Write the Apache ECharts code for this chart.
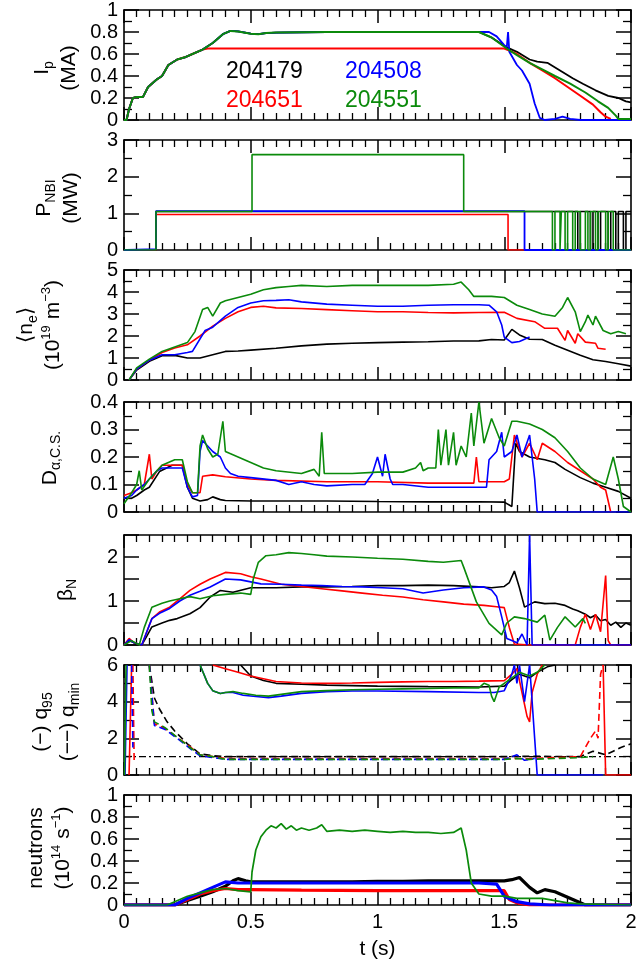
<!DOCTYPE html>
<html>
<head>
<meta charset="utf-8">
<script src="https://cdn.jsdelivr.net/npm/echarts@6/dist/echarts.min.js"></script>
<style>html,body{margin:0;padding:0;background:#fff}#chart{width:636px;height:972px}</style>
</head>
<body>
<div id="chart"></div>
<script>
// shot numbers and colours
var shots = ['204179', '204651', '204508', '204551'];
var shotColors = ['#000000', '#ff0000', '#0000ff', '#0b8a0b'];

// x ticks shared by every panel (time, s)
var tMin = 0, tMax = 2, tStep = 0.5;

// panel y ranges
var yMax = [1, 3, 5, 0.4, 2.5, 6, 1];
var yStep = [0.2, 1, 1, 0.1, 0.5, 2, 0.2];

/* ---- panel 1 : Ip (MA) ---- */
var ipRise = [[0,0],[0.01,0],[0.02,0.1],[0.035,0.2],[0.05,0.21],[0.075,0.21],[0.095,0.3],[0.13,0.37],[0.15,0.4],[0.175,0.5],[0.21,0.55],[0.24,0.57],[0.27,0.6],[0.31,0.64]];
var ipFlat = [[0.35,0.7],[0.39,0.78],[0.42,0.81],[0.45,0.805],[0.5,0.785],[0.53,0.78],[0.56,0.79],[0.6,0.795],[0.8,0.8],[1.0,0.8],[1.2,0.8],[1.4,0.8]];
var ipBlack = [[1.45,0.75],[1.51,0.66],[1.55,0.62],[1.6,0.55],[1.63,0.53],[1.67,0.52],[1.72,0.45],[1.77,0.38],[1.81,0.33],[1.86,0.27],[1.91,0.22],[1.95,0.2],[1.98,0.17],[2.0,0.16]];
var ipRed = [[0.33,0.65],[0.5,0.65],[0.8,0.65],[1.0,0.65],[1.2,0.65],[1.5,0.65],[1.52,0.63],[1.55,0.6],[1.6,0.52],[1.65,0.45],[1.7,0.38],[1.75,0.3],[1.8,0.22],[1.85,0.14],[1.88,0.07],[1.9,0.03],[1.92,0.01]];
var ipBlue = [[1.44,0.8],[1.47,0.76],[1.5,0.68],[1.51,0.66],[1.515,0.8],[1.52,0.62],[1.55,0.5],[1.57,0.45],[1.6,0.33],[1.62,0.15],[1.64,0.02],[1.66,0],[1.7,0.01],[1.73,0.03],[1.76,0.01],[1.8,0],[2.0,0]];
var ipGreen = [[1.45,0.75],[1.51,0.65],[1.55,0.59],[1.6,0.52],[1.65,0.46],[1.7,0.4],[1.76,0.33],[1.82,0.25],[1.87,0.17],[1.91,0.11],[1.94,0.04],[1.95,0.01],[2.0,0.01]];

/* ---- panel 2 : P_NBI (MW), step data ---- */
var pnbiBlack = [[0,0],[0.126,1.05],[1.79,0],[1.8,1.05],[1.84,0],[1.85,1.05],[1.87,0],[1.88,1.05],[1.91,0],[1.92,1.05],[1.94,0],[1.95,1.05],[1.97,0],[1.98,1.05],[2.0,1.05]];
var pnbiRed = [[0,0],[0.126,0.97],[1.515,0],[2.0,0]];
var pnbiBlue = [[0,0],[0.01,0.02],[0.126,1.06],[1.58,0],[2.0,0]];
var pnbiGreen = [[0,0],[0.126,1.05],[0.505,2.6],[1.34,1.05],[1.69,0],[1.7,1.05],[1.72,0],[1.725,1.05],[1.74,0],[1.75,1.05],[1.77,0],[1.78,1.05],[1.8,0],[1.82,1.05],[1.83,0],[1.84,1.05],[1.86,0],[1.87,1.05],[1.9,0],[1.91,1.05],[1.93,0],[2.0,0]];

/* ---- panel 3 : <ne> (1e19 m^-3) ---- */
var neBlack = [[0.02,0],[0.05,0.45],[0.1,0.85],[0.15,1.1],[0.2,1.12],[0.25,1.0],[0.3,1.0],[0.35,1.15],[0.4,1.3],[0.45,1.32],[0.5,1.36],[0.6,1.44],[0.7,1.55],[0.8,1.63],[0.9,1.67],[1.0,1.7],[1.1,1.72],[1.2,1.74],[1.3,1.77],[1.4,1.78],[1.45,1.84],[1.5,1.82],[1.53,2.3],[1.56,2.05],[1.6,1.85],[1.65,1.84],[1.7,1.58],[1.75,1.35],[1.8,1.12],[1.85,0.92],[1.9,0.84],[1.95,0.74],[2.0,0.63]];
var neRed = [[0.02,0],[0.05,0.5],[0.1,0.9],[0.15,1.25],[0.2,1.45],[0.25,1.6],[0.3,2.0],[0.35,2.45],[0.4,2.8],[0.45,3.1],[0.5,3.3],[0.55,3.35],[0.6,3.28],[0.7,3.25],[0.8,3.2],[0.9,3.15],[1.0,3.1],[1.1,3.1],[1.2,3.07],[1.3,3.05],[1.4,3.07],[1.5,3.08],[1.55,2.8],[1.62,2.65],[1.66,2.35],[1.71,2.35],[1.74,1.8],[1.75,2.25],[1.78,1.67],[1.79,2.1],[1.82,1.72],[1.86,1.67],[1.87,1.44],[1.9,1.4]];
var neBlue = [[0.02,0],[0.05,0.5],[0.1,0.9],[0.15,1.15],[0.2,1.15],[0.25,1.25],[0.27,1.3],[0.32,2.25],[0.35,2.4],[0.4,2.9],[0.45,3.3],[0.5,3.5],[0.55,3.6],[0.6,3.62],[0.65,3.65],[0.7,3.55],[0.8,3.45],[0.9,3.4],[1.0,3.35],[1.1,3.35],[1.2,3.4],[1.3,3.42],[1.4,3.42],[1.44,3.4],[1.47,3.1],[1.49,2.5],[1.5,1.95],[1.53,1.7],[1.56,1.75],[1.6,1.95]];
var neGreen = [[0.02,0],[0.05,0.55],[0.1,0.95],[0.15,1.3],[0.2,1.5],[0.25,1.7],[0.28,2.2],[0.31,3.2],[0.33,3.3],[0.35,2.9],[0.38,3.5],[0.4,3.6],[0.45,3.75],[0.5,3.9],[0.55,4.1],[0.6,4.2],[0.65,4.25],[0.7,4.3],[0.8,4.25],[0.9,4.3],[1.0,4.3],[1.1,4.3],[1.2,4.3],[1.3,4.35],[1.33,4.45],[1.36,4.1],[1.38,3.8],[1.45,3.8],[1.5,3.75],[1.55,3.4],[1.6,3.2],[1.65,3.0],[1.7,2.9],[1.73,3.3],[1.75,3.75],[1.78,3.1],[1.8,2.2],[1.82,2.65],[1.83,2.95],[1.85,2.5],[1.86,2.9],[1.89,2.25],[1.92,2.1],[1.95,2.2],[1.98,2.1]];

/* ---- panel 4 : D_alpha C.S. ---- */
var daBlack = [[0,0.05],[0.03,0.05],[0.05,0.06],[0.08,0.08],[0.1,0.09],[0.14,0.147],[0.19,0.17],[0.23,0.17],[0.25,0.09],[0.27,0.05],[0.3,0.04],[0.33,0.045],[0.35,0.055],[0.38,0.045],[0.4,0.042],[0.5,0.04],[0.6,0.04],[0.8,0.04],[1.0,0.038],[1.2,0.037],[1.4,0.037],[1.5,0.036],[1.53,0.02],[1.545,0.25],[1.56,0.22],[1.6,0.2],[1.66,0.19],[1.7,0.18],[1.74,0.155],[1.8,0.125],[1.85,0.105],[1.9,0.09],[1.95,0.075],[2.0,0.05]];
var daRed = [[0,0.06],[0.03,0.07],[0.05,0.08],[0.08,0.1],[0.1,0.21],[0.11,0.12],[0.13,0.15],[0.15,0.17],[0.2,0.17],[0.23,0.17],[0.25,0.1],[0.27,0.07],[0.3,0.07],[0.31,0.13],[0.35,0.135],[0.4,0.128],[0.5,0.12],[0.6,0.115],[0.8,0.11],[1.0,0.11],[1.2,0.105],[1.38,0.105],[1.39,0.2],[1.4,0.11],[1.5,0.11],[1.52,0.12],[1.54,0.28],[1.57,0.2],[1.6,0.25],[1.63,0.19],[1.65,0.25],[1.7,0.22],[1.75,0.18],[1.8,0.15],[1.85,0.12],[1.88,0.09],[1.9,0.08],[1.92,0]];
var daBlue = [[0,0.05],[0.03,0.06],[0.05,0.08],[0.08,0.1],[0.1,0.12],[0.13,0.15],[0.15,0.16],[0.2,0.16],[0.23,0.16],[0.25,0.09],[0.27,0.055],[0.29,0.06],[0.3,0.22],[0.31,0.26],[0.33,0.24],[0.35,0.22],[0.38,0.2],[0.4,0.16],[0.42,0.14],[0.45,0.13],[0.5,0.125],[0.6,0.115],[0.65,0.1],[0.7,0.11],[0.75,0.1],[0.8,0.095],[0.9,0.1],[0.95,0.1],[0.98,0.14],[1.0,0.2],[1.02,0.13],[1.03,0.21],[1.05,0.12],[1.06,0.1],[1.1,0.1],[1.2,0.09],[1.3,0.09],[1.43,0.09],[1.44,0.19],[1.47,0.22],[1.49,0.29],[1.5,0.2],[1.53,0.22],[1.55,0.28],[1.57,0.2],[1.6,0.28],[1.62,0.12],[1.63,0],[2.0,0]];
var daGreen = [[0,0.03],[0.03,0.07],[0.05,0.1],[0.06,0.15],[0.07,0.08],[0.1,0.12],[0.13,0.15],[0.15,0.17],[0.2,0.19],[0.23,0.19],[0.25,0.11],[0.27,0.07],[0.29,0.07],[0.3,0.24],[0.31,0.28],[0.33,0.23],[0.35,0.2],[0.37,0.21],[0.39,0.33],[0.4,0.22],[0.45,0.2],[0.5,0.18],[0.55,0.16],[0.6,0.15],[0.7,0.14],[0.75,0.155],[0.77,0.13],[0.78,0.29],[0.79,0.14],[0.9,0.14],[1.0,0.145],[1.1,0.145],[1.15,0.16],[1.17,0.18],[1.18,0.15],[1.2,0.16],[1.23,0.16],[1.24,0.3],[1.25,0.17],[1.27,0.3],[1.28,0.17],[1.3,0.29],[1.31,0.17],[1.33,0.24],[1.35,0.2],[1.37,0.36],[1.38,0.24],[1.4,0.4],[1.42,0.25],[1.45,0.34],[1.48,0.27],[1.5,0.24],[1.53,0.33],[1.55,0.33],[1.6,0.32],[1.65,0.3],[1.7,0.27],[1.75,0.22],[1.8,0.16],[1.85,0.12],[1.9,0.1],[1.93,0.2],[1.95,0.12],[1.97,0.02],[2.0,0]];

/* ---- panel 5 : beta_N ---- */
var bnBlack = [[0,0],[0.02,0.1],[0.04,0.05],[0.07,0],[0.09,0.2],[0.11,0.41],[0.15,0.5],[0.18,0.56],[0.21,0.6],[0.26,0.71],[0.3,0.85],[0.34,1.09],[0.38,1.24],[0.43,1.2],[0.5,1.3],[0.6,1.3],[0.7,1.32],[0.8,1.32],[0.9,1.33],[1.0,1.35],[1.1,1.35],[1.2,1.36],[1.3,1.35],[1.4,1.32],[1.45,1.3],[1.5,1.33],[1.52,1.42],[1.54,1.68],[1.56,1.3],[1.58,0.86],[1.62,0.98],[1.66,0.94],[1.7,0.95],[1.74,0.9],[1.77,0.82],[1.79,0.78],[1.82,0.7],[1.84,0.62],[1.86,0.68],[1.88,0.55],[1.9,0.58],[1.92,0.45],[1.94,0.52],[1.96,0.4],[1.98,0.5],[2.0,0.45]];
var bnRed = [[0,0],[0.02,0.15],[0.04,0.05],[0.07,0],[0.09,0.3],[0.11,0.6],[0.14,0.75],[0.18,0.86],[0.22,1.05],[0.26,1.24],[0.3,1.38],[0.34,1.5],[0.4,1.65],[0.46,1.62],[0.5,1.55],[0.54,1.5],[0.62,1.38],[0.7,1.33],[0.78,1.28],[0.86,1.23],[0.94,1.18],[1.02,1.13],[1.1,1.09],[1.18,1.03],[1.26,0.98],[1.34,0.93],[1.42,0.9],[1.47,0.87],[1.5,0.85],[1.52,0.4],[1.54,0.02],[1.6,0],[1.78,0],[1.8,0.4],[1.82,0.7],[1.84,0.35],[1.86,0.7],[1.88,0.3],[1.9,1.58],[1.91,0.1],[1.92,0],[2.0,0]];
var bnBlue = [[0,0],[0.02,0.12],[0.04,0.05],[0.07,0],[0.09,0.3],[0.11,0.6],[0.14,0.72],[0.18,0.83],[0.22,1.0],[0.26,1.13],[0.3,1.22],[0.34,1.32],[0.4,1.5],[0.46,1.48],[0.54,1.39],[0.62,1.38],[0.7,1.36],[0.78,1.35],[0.86,1.33],[0.94,1.32],[1.02,1.3],[1.1,1.28],[1.18,1.18],[1.26,1.25],[1.34,1.3],[1.42,1.32],[1.45,1.25],[1.47,1.1],[1.49,0.64],[1.51,0.15],[1.53,0.1],[1.55,0.05],[1.57,0.25],[1.59,0],[1.6,2.5],[1.61,0],[2.0,0]];
var bnGreen = [[0,0],[0.03,0.1],[0.06,0],[0.08,0.4],[0.11,0.86],[0.15,0.95],[0.18,1.0],[0.22,1.05],[0.26,1.1],[0.3,1.05],[0.35,1.12],[0.4,1.15],[0.46,1.18],[0.5,1.15],[0.51,1.5],[0.53,1.88],[0.56,2.03],[0.6,2.05],[0.65,2.1],[0.7,2.08],[0.75,2.05],[0.8,2.02],[0.9,2.0],[1.0,1.97],[1.1,1.95],[1.2,1.9],[1.26,1.88],[1.33,1.92],[1.34,1.77],[1.39,0.98],[1.44,0.49],[1.49,0.23],[1.51,0.5],[1.54,0.64],[1.58,0.6],[1.63,0.52],[1.66,0.68],[1.68,0.11],[1.71,0.4],[1.74,0.64],[1.78,0.41],[1.81,0.6],[1.82,0.49]];

/* ---- panel 6 : q95 (solid) and qmin (dashed) ---- */
var q95Black = [[0.46,6],[0.5,5.4],[0.55,5.15],[0.6,5.0],[0.7,4.95],[0.8,4.9],[1.0,4.85],[1.2,4.82],[1.4,4.8],[1.5,4.85],[1.53,5.2],[1.56,5.5],[1.6,5.3],[1.63,5.6],[1.67,5.9],[1.7,6]];
var q95Red = [[0.02,0],[0.03,6],[0.05,null],[0.35,6],[0.4,5.8],[0.45,5.6],[0.5,5.4],[0.55,5.25],[0.6,5.1],[0.7,5.02],[0.8,5.0],[0.9,5.02],[1.0,5.05],[1.1,5.08],[1.2,5.1],[1.3,5.1],[1.4,5.12],[1.5,5.15],[1.53,5.5],[1.55,5.8],[1.57,4.5],[1.59,3.2],[1.6,2.9],[1.61,4.5],[1.63,5.5],[1.65,6],[1.66,null],[1.89,6],[1.9,0],[2.0,0]];
var q95Blue = [[0.004,0],[0.012,6],[0.05,null],[0.3,6],[0.33,5.0],[0.35,4.6],[0.38,4.45],[0.4,4.5],[0.43,4.5],[0.47,4.35],[0.52,4.28],[0.57,4.22],[0.62,4.3],[0.7,4.45],[0.8,4.55],[0.9,4.58],[1.0,4.58],[1.2,4.55],[1.4,4.5],[1.46,4.5],[1.5,4.6],[1.53,5.5],[1.54,6],[1.55,5],[1.56,6],[1.58,4.0],[1.6,6],[1.62,2],[1.63,0],[1.89,0]];
var q95Green = [[0.002,0],[0.008,6],[0.05,null],[0.3,6],[0.33,5.0],[0.35,4.6],[0.38,4.45],[0.4,4.5],[0.43,4.55],[0.47,4.45],[0.52,4.35],[0.57,4.3],[0.62,4.4],[0.7,4.55],[0.8,4.6],[0.9,4.65],[1.0,4.68],[1.1,4.7],[1.2,4.72],[1.3,4.75],[1.4,4.75],[1.42,5.0],[1.44,4.9],[1.45,4.3],[1.46,4.0],[1.48,4.8],[1.5,5.0],[1.53,5.3],[1.56,5.6],[1.6,5.4],[1.63,5.6],[1.66,6]];
var qminBlack = [[0.1,6],[0.12,4.2],[0.14,3.6],[0.17,2.9],[0.2,2.4],[0.25,1.7],[0.3,1.15],[0.35,1.05],[0.4,1.0],[0.6,1.0],[0.8,1.0],[1.0,1.0],[1.2,1.0],[1.4,1.0],[1.5,1.0],[1.6,1.02],[1.8,1.0],[1.85,1.3],[1.9,1.1],[1.93,1.3],[1.96,1.5],[2.0,1.7]];
var qminRed = [[0.035,6],[0.04,0.8],[0.045,null],[0.1,6],[0.12,2.8],[0.16,2.55],[0.21,2.05],[0.26,1.55],[0.3,1.1],[0.35,1.0],[0.4,0.9],[0.6,0.9],[0.8,0.9],[1.0,0.9],[1.2,0.9],[1.4,0.9],[1.5,0.9],[1.6,0.9],[1.8,1.0],[1.82,1.5],[1.84,2.0],[1.86,2.4],[1.87,2.0],[1.88,5.5],[1.89,6]];
var qminBlue = [[0.03,6],[0.035,1.5],[0.04,null],[0.1,6],[0.12,2.7],[0.16,2.5],[0.21,2.0],[0.26,1.45],[0.3,1.05],[0.35,0.95],[0.4,0.85],[0.6,0.85],[0.8,0.85],[1.0,0.85],[1.2,0.85],[1.4,0.85],[1.5,0.85],[1.55,1.1],[1.58,0.8],[1.62,0.9]];
var qminGreen = [[0.1,6],[0.11,3.5],[0.12,2.9],[0.16,2.6],[0.21,2.05],[0.26,1.5],[0.3,1.1],[0.35,1.0],[0.4,0.85],[0.6,0.85],[0.8,0.85],[1.0,0.85],[1.2,0.85],[1.4,0.85],[1.5,0.85],[1.55,0.9],[1.6,0.85],[1.7,0.9],[1.8,0.95],[1.85,1.0]];
var qOne = [[0,1],[2,1]];

/* ---- panel 7 : neutrons (1e14 /s) ---- */
var nBlack = [[0,0],[0.2,0],[0.25,0.04],[0.3,0.08],[0.35,0.12],[0.4,0.17],[0.43,0.22],[0.45,0.24],[0.48,0.22],[0.5,0.21],[0.6,0.21],[0.7,0.21],[0.8,0.21],[0.9,0.21],[1.0,0.215],[1.1,0.215],[1.2,0.22],[1.3,0.22],[1.4,0.22],[1.5,0.22],[1.53,0.23],[1.56,0.25],[1.6,0.16],[1.63,0.11],[1.66,0.14],[1.7,0.12],[1.75,0.07],[1.8,0.02],[1.82,0],[2.0,0]];
var nRed = [[0,0],[0.2,0],[0.25,0.05],[0.3,0.1],[0.35,0.13],[0.4,0.15],[0.45,0.14],[0.5,0.14],[0.7,0.135],[1.0,0.13],[1.3,0.13],[1.5,0.13],[1.52,0.05],[1.55,0.02],[1.6,0],[2.0,0]];
var nBlue = [[0,0],[0.2,0],[0.25,0.06],[0.3,0.11],[0.35,0.16],[0.4,0.21],[0.45,0.2],[0.5,0.2],[0.6,0.2],[0.8,0.2],[1.0,0.2],[1.2,0.2],[1.4,0.2],[1.47,0.19],[1.5,0.08],[1.55,0.03],[1.6,0.01],[1.68,0],[2.0,0]];
var nGreen = [[0,0],[0.17,0],[0.2,0.03],[0.25,0.08],[0.3,0.11],[0.35,0.14],[0.4,0.15],[0.45,0.13],[0.5,0.12],[0.505,0.3],[0.52,0.5],[0.54,0.62],[0.56,0.68],[0.58,0.72],[0.6,0.7],[0.62,0.74],[0.64,0.69],[0.66,0.72],[0.68,0.68],[0.7,0.7],[0.73,0.68],[0.76,0.7],[0.78,0.73],[0.8,0.67],[0.85,0.68],[0.9,0.67],[0.95,0.68],[1.0,0.67],[1.05,0.66],[1.1,0.67],[1.15,0.66],[1.2,0.66],[1.25,0.65],[1.3,0.66],[1.33,0.7],[1.35,0.5],[1.37,0.2],[1.4,0.1],[1.45,0.08],[1.5,0.08],[1.55,0.06],[1.6,0.06],[1.65,0.06],[1.7,0.04],[1.75,0.02],[1.8,0.01],[2.0,0]];

var FONT = '"Liberation Sans", Arial, Helvetica, sans-serif';
var panelTop = [10, 140, 270, 402, 535, 665, 795];
var panelH = 110;

var chart = echarts.init(document.getElementById('chart'), null, {renderer: 'canvas'});

var grids = [], xAxes = [], yAxes = [], series = [];

for (var i = 0; i < 7; i++) {
    grids.push({left: 124, right: 5, top: panelTop[i], height: panelH, outerBoundsMode: 'none'});
    [false, true].forEach(function (mirror) {
        var last = (i === 6 && !mirror);
        xAxes.push({
            type: 'value', gridIndex: i, min: tMin, max: tMax, interval: tStep,
            position: mirror ? 'top' : 'bottom',
            axisLine: {show: true, onZero: false, lineStyle: {color: '#000', width: 1.6}},
            axisTick: {show: true, inside: true, length: 13, lineStyle: {color: '#000', width: 1.5}},
            minorTick: {show: true, splitNumber: 10, length: 7, lineStyle: {color: '#000', width: 1.3}},
            splitLine: {show: false},
            axisLabel: {show: last, fontSize: 20, color: '#000', margin: 7, fontFamily: FONT,
                        showMinLabel: true, showMaxLabel: true},
            name: last ? 't (s)' : '', nameLocation: 'middle', nameGap: 34,
            nameTextStyle: {fontSize: 21, color: '#000', fontFamily: FONT}
        });
    });
    (function (pi) {
        [false, true].forEach(function (mirror) {
            yAxes.push({
                type: 'value', gridIndex: pi, min: 0, max: yMax[pi], interval: yStep[pi],
                position: mirror ? 'right' : 'left',
                axisLine: {show: true, onZero: false, lineStyle: {color: '#000', width: 1.6}},
                axisTick: {show: true, inside: true, length: 15, lineStyle: {color: '#000', width: 1.5}},
                minorTick: {show: pi !== 4, splitNumber: 2, length: 8, lineStyle: {color: '#000', width: 1.3}},
                splitLine: {show: false},
                axisLabel: {show: !mirror, fontSize: 20, color: '#000', margin: 6, fontFamily: FONT,
                            showMinLabel: true, showMaxLabel: true,
                            formatter: function (v) {
                                if (pi === 4) return (Math.abs(v - Math.round(v)) < 1e-9) ? String(Math.round(v)) : '';
                                return String(+v.toFixed(2));
                            }}
            });
        });
    })(i);
}

function addLine(panel, data, color, opts) {
    opts = opts || {};
    series.push({
        type: 'line', xAxisIndex: panel * 2, yAxisIndex: panel * 2,
        data: data, showSymbol: false, symbol: 'none', silent: true,
        step: opts.step || false, clip: true,
        lineStyle: {color: color, width: opts.width || 1.6, type: opts.type || 'solid'},
        z: opts.z || 2
    });
}

var K = shotColors[0], R = shotColors[1], B = shotColors[2], G = shotColors[3];

addLine(0, ipRise.concat(ipFlat, ipBlack), K, {width: 1.8});
addLine(0, ipRise.concat(ipRed), R, {width: 2});
addLine(0, ipRise.concat(ipFlat, ipBlue), B, {width: 1.8});
addLine(0, ipRise.concat(ipFlat, ipGreen), G, {width: 2});

addLine(1, pnbiBlack, K, {step: 'end'});
addLine(1, pnbiRed, R, {step: 'end'});
addLine(1, pnbiBlue, B, {step: 'end', width: 1.8});
addLine(1, pnbiGreen, G, {step: 'end'});

addLine(2, neBlack, K);
addLine(2, neRed, R);
addLine(2, neBlue, B);
addLine(2, neGreen, G);

addLine(3, daBlack, K);
addLine(3, daRed, R);
addLine(3, daBlue, B);
addLine(3, daGreen, G);

addLine(4, bnBlack, K);
addLine(4, bnRed, R);
addLine(4, bnBlue, B);
addLine(4, bnGreen, G);

addLine(5, qOne, '#000', {type: [7, 3, 2, 3], width: 1.3});
addLine(5, q95Black, K);
addLine(5, q95Red, R);
addLine(5, q95Blue, B);
addLine(5, q95Green, G);
addLine(5, qminBlack, K, {type: [7, 4]});
addLine(5, qminRed, R, {type: [7, 4]});
addLine(5, qminBlue, B, {type: [7, 4]});
addLine(5, qminGreen, G, {type: [7, 4]});

addLine(6, nBlack, K, {width: 3.2});
addLine(6, nRed, R, {width: 3.2});
addLine(6, nBlue, B, {width: 3.2});
addLine(6, nGreen, G, {width: 1.7});

// axis titles (rotated) and shot labels
var rich = {
    m: {fontSize: 21, lineHeight: 27, fontFamily: FONT, color: '#000'},
    s: {fontSize: 14, lineHeight: 14, verticalAlign: 'bottom', fontFamily: FONT, color: '#000'},
    p: {fontSize: 13, lineHeight: 13, verticalAlign: 'top', fontFamily: FONT, color: '#000'}
};
var titles = [
    {x: 56, y: 68, text: '{m|I}{s|p}\n{m|(MA)}'},
    {x: 58, y: 198, text: '{m|P}{s|NBI}\n{m|(MW)}'},
    {x: 40, y: 325, text: '{m|⟨n}{s|e}{m|⟩}\n{m|(10}{p|19}{m| m}{p|−3}{m|)}'},
    {x: 50, y: 458, text: '{m|D}{s|α,C.S.}'},
    {x: 66, y: 590, text: '{m|β}{s|N}'},
    {x: 55, y: 722, text: '{m|(−) q}{s|95}\n{m|(−−) q}{s|min}'},
    {x: 50, y: 848, text: '{m|neutrons}\n{m|(10}{p|14}{m| s}{p|−1}{m|)}'}
];
var graphic = titles.map(function (t) {
    return {
        type: 'text', x: t.x, y: t.y, rotation: Math.PI / 2, silent: true,
        style: {text: t.text, rich: rich, align: 'center', verticalAlign: 'middle', fill: '#000'}
    };
});
var legendPos = [[226, 72], [226, 101], [345, 72], [345, 101]];
shots.forEach(function (name, k) {
    graphic.push({
        type: 'text', x: legendPos[k][0], y: legendPos[k][1], silent: true,
        style: {text: name, fontSize: 23, fontFamily: FONT, fill: shotColors[k],
                align: 'left', verticalAlign: 'middle'}
    });
});

chart.setOption({
    animation: false,
    backgroundColor: '#fff',
    grid: grids,
    xAxis: xAxes,
    yAxis: yAxes,
    series: series,
    graphic: graphic
});
</script>
</body>
</html>
